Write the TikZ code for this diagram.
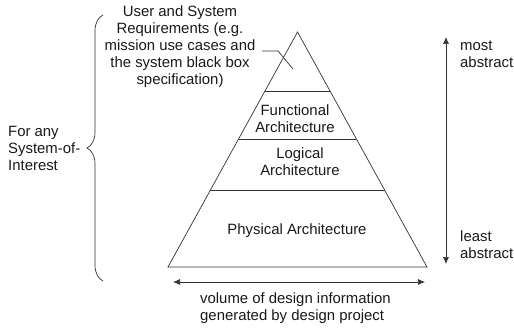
\documentclass[tikz,border=0pt]{standalone}
\usepackage{fontspec}
\setmainfont{Liberation Sans}
\usetikzlibrary{arrows.meta,calc,decorations.pathreplacing}
\definecolor{inkgray}{rgb}{0.2, 0.2, 0.2}

\tikzset{
  label text/.style={font=\fontsize{14.9}{17}\selectfont, text=black!90, inner sep=0pt},
  thin line/.style={draw=inkgray, line width=0.7pt},
  both tips/.style={thin line, {Latex[length=7pt,width=6pt]}-{Latex[length=7pt,width=6pt]}}
}

\begin{document}
\begin{tikzpicture}[x=1pt,y=-1pt]
  \useasboundingbox (0,0) rectangle (514,329);

  % pyramid corners
  \coordinate (apex) at (297.5,32);
  \coordinate (baseL) at (168,267);
  \coordinate (baseR) at (427,267);

  \draw [thin line] (apex) -- (baseL) -- (baseR) -- cycle;

  % level separators
  \foreach \f / \name in {0.251/one, 0.455/two, 0.672/three}
  {
    \coordinate (\name L) at ($(apex)!\f!(baseL)$);
    \coordinate (\name R) at ($(apex)!\f!(baseR)$);
    \draw [thin line] (\name L) -- (\name R);
  }

  \node [label text, align=center] (func) at (295,119) {Functional\\Architecture};
  \node [label text, align=center] (logic) at (300,162) {Logical\\Architecture};
  \node [label text] (phys) at (297,231) {Physical Architecture};

  % requirements call-out
  \node [label text, align=center] (req) at (180,47)
    {User and System\\Requirements (e.g.\\mission use cases and\\the system black box\\specification)};
  \coordinate (leadA) at (262,51);
  \coordinate (leadB) at (278,51);
  \coordinate (leadC) at (293,69);
  \draw [thin line] (leadA) -- (leadB) -- (leadC);

  % brace for the system of interest
  \coordinate (braceBot) at (103,281);
  \coordinate (braceTop) at (103,15);
  \draw [thin line, decorate, decoration={brace, amplitude=16pt}] (braceBot) -- (braceTop);
  \node [label text, align=left, anchor=west] (soi) at (8,148) {For any\\System-of-\\Interest};

  % abstraction axis
  \coordinate (absTop) at (446,37);
  \coordinate (absBot) at (446,264);
  \draw [both tips] (absBot) -- (absTop);
  \node [label text, align=left, anchor=west] (most) at (460,54) {most\\abstract};
  \node [label text, align=left, anchor=west] (least) at (460,245) {least\\abstract};

  % volume axis
  \coordinate (volL) at (173,282);
  \coordinate (volR) at (425,282);
  \draw [both tips] (volL) -- (volR);
  \node [label text, align=left, anchor=west] (vol) at (200,308)
    {volume of design information\\generated by design project};
\end{tikzpicture}
\end{document}
